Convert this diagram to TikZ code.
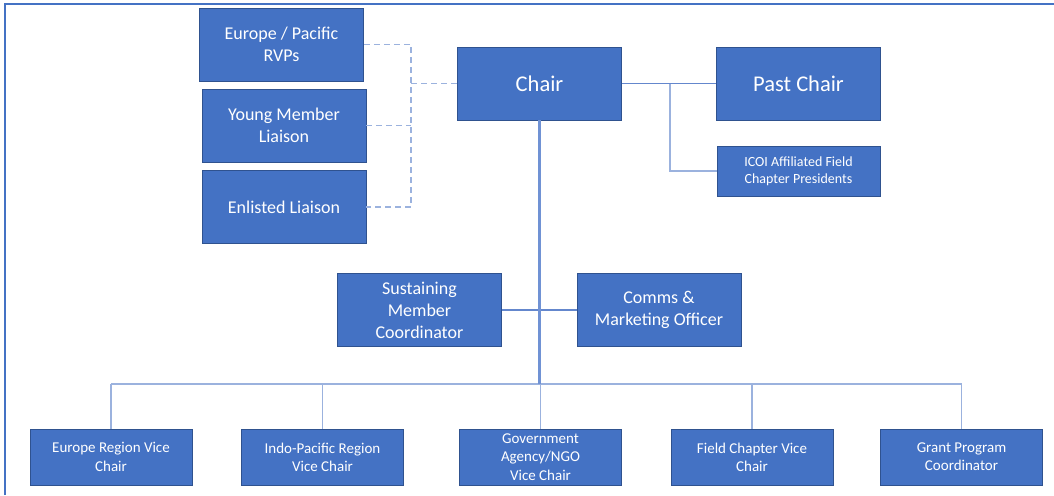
\documentclass[tikz,border=0pt]{standalone}
\usepackage{fontspec}
\setmainfont{Carlito}
\usepackage{tikz}
\definecolor{boxblue}{RGB}{68,114,196}
\definecolor{boxedge}{RGB}{47,82,143}
\definecolor{linkblue}{RGB}{155,178,222}
\definecolor{mainblue}{RGB}{100,135,205}
\definecolor{trunkblue}{RGB}{112,146,212}
\tikzstyle{block} = [draw=boxedge, fill=boxblue, rectangle, text=white,
    align=center, line width=0.8pt, inner sep=0pt,
    minimum width=164pt, minimum height=73pt, font=\fontsize{18}{22}\selectfont]
\tikzstyle{head} = [block, font=\fontsize{22.5}{27}\selectfont]
\tikzstyle{vice} = [block, minimum width=162pt, minimum height=56pt,
    font=\fontsize{15}{18.3}\selectfont]
\tikzstyle{input} = [coordinate]
\tikzstyle{link} = [draw=linkblue, line width=1.3pt]
\tikzstyle{mainlink} = [draw=mainblue, line width=1.3pt]
\tikzstyle{trunk} = [draw=trunkblue, line width=2.2pt]
\tikzstyle{dotlink} = [link, dash pattern=on 6pt off 4pt]

\begin{document}
\begin{tikzpicture}[node distance=2cm]
\useasboundingbox (0,0) rectangle (1054pt,-495pt);
\draw [draw=boxblue, line width=2pt] (5pt,-495pt) -- (5pt,-4pt) -- (1054pt,-4pt);
% Nodes
	\node [head] (chair) at (539.5pt,-83.5pt) {Chair};
	\node [head, right of=chair, node distance=259pt] (past) {Past Chair};
	\node [block, below of=past, node distance=87.5pt, minimum height=50pt, minimum width=163pt,
	       font=\fontsize{14}{17}\selectfont] (icoi) {ICOI Affiliated Field\\Chapter Presidents};
	\node [block, left of=chair, node distance=255.5pt, yshift=-42pt] (young) {Young Member\\Liaison};
	\node [block, above of=young, node distance=81pt, xshift=-2.5pt] (rvp) {Europe / Pacific\\RVPs};
	\node [block, below of=young, node distance=81.5pt] (enlisted) {Enlisted Liaison};
	\node [input, below of=chair, node distance=226.5pt] (mid) {};
	\node [block, left of=mid, node distance=120pt] (sustain) {Sustaining\\Member\\Coordinator};
	\node [block, right of=mid, node distance=119.5pt] (comms) {Comms \&\\Marketing Officer};
	\node [vice, below of=chair, node distance=373.5pt, xshift=1pt] (gov) {Government\\Agency/NGO\\Vice Chair};
	\node [vice, left of=gov, node distance=218pt] (indo) {Indo-Pacific Region\\Vice Chair};
	\node [vice, left of=indo, node distance=211.5pt] (eurvc) {Europe Region Vice\\Chair};
	\node [vice, right of=gov, node distance=211.5pt] (field) {Field Chapter Vice\\Chair};
	\node [vice, right of=field, node distance=209.5pt] (grant) {Grant Program\\Coordinator};
	\node [input] (djoin) at (411pt,-83.5pt) {};
	\node [input] (pbranch) at (670pt,-83.5pt) {};
	\node [input] (bus) at (540pt,-384pt) {};
% Connections
	\draw [dotlink] (rvp.east) -| (djoin) |- (enlisted.east);
	\draw [dotlink] (young.east) -- (young.east -| djoin);
	\draw [dotlink] (djoin) -- (chair.west);
	\draw [mainlink] (chair) -- (past);
	\draw [link] (pbranch) |- (icoi);
	\draw [mainlink] (sustain) -- (comms);
	\draw [link] (eurvc.north |- bus) -- (grant.north |- bus);
	\foreach \n in {eurvc, indo, gov, field, grant}
		\draw [link] (\n.north |- bus) -- (\n.north);
	\draw [trunk] (chair.south) -- (chair.south |- bus);
\end{tikzpicture}
\end{document}
